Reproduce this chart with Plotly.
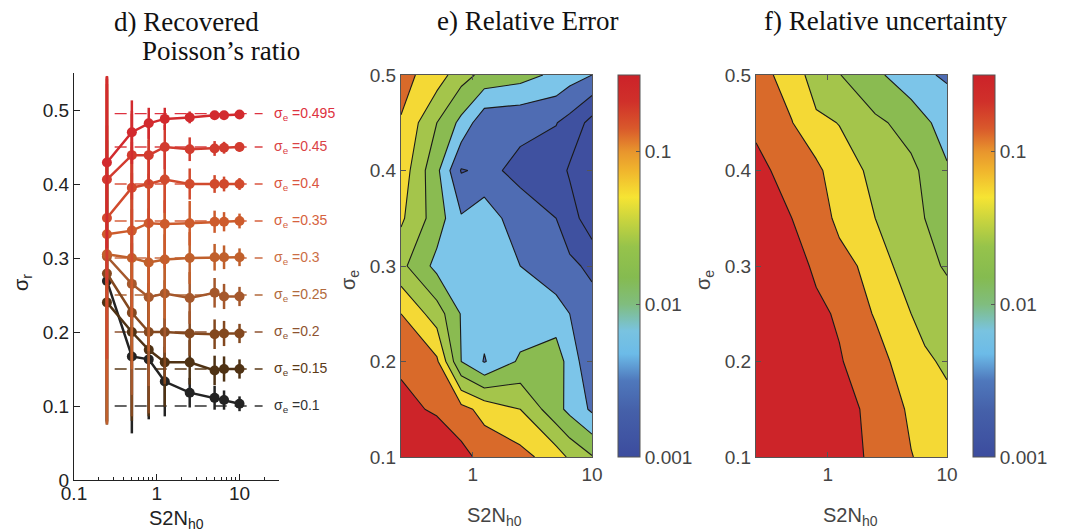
import plotly.graph_objects as go

W, H = 1070, 531
def px(x): return x / W
def py(y): return 1 - y / H

# ---------------- data: panel d ----------------
s2n = [0.25, 0.5, 0.8, 1.25, 2.5, 5, 6.5, 10]
sigma_e_levels = [0.1, 0.15, 0.2, 0.25, 0.3, 0.35, 0.4, 0.45, 0.495]
sigma_e_labels = ["0.1", "0.15", "0.2", "0.25", "0.3", "0.35", "0.4", "0.45", "0.495"]

sr_010 = [0.269, 0.167, 0.163, 0.133, 0.118, 0.111, 0.108, 0.103]
sr_015 = [0.240, 0.200, 0.176, 0.159, 0.159, 0.148, 0.150, 0.150]
sr_020 = [0.279, 0.226, 0.200, 0.200, 0.198, 0.197, 0.198, 0.198]
sr_025 = [0.302, 0.265, 0.247, 0.252, 0.246, 0.253, 0.248, 0.248]
sr_030 = [0.305, 0.300, 0.294, 0.298, 0.300, 0.301, 0.301, 0.301]
sr_035 = [0.332, 0.337, 0.347, 0.346, 0.347, 0.349, 0.349, 0.350]
sr_040 = [0.354, 0.395, 0.400, 0.406, 0.400, 0.400, 0.400, 0.400]
sr_045 = [0.406, 0.439, 0.439, 0.450, 0.447, 0.448, 0.449, 0.450]
sr_0495 = [0.429, 0.470, 0.482, 0.488, 0.490, 0.493, 0.493, 0.494]

err_010 = [0.190, 0.104, 0.081, 0.047, 0.020, 0.016, 0.013, 0.010]
err_015 = [0.165, 0.120, 0.090, 0.060, 0.030, 0.020, 0.017, 0.013]
err_020 = [0.200, 0.140, 0.110, 0.070, 0.030, 0.020, 0.017, 0.013]
err_025 = [0.225, 0.150, 0.120, 0.080, 0.035, 0.020, 0.017, 0.013]
err_030 = [0.230, 0.150, 0.120, 0.080, 0.035, 0.018, 0.016, 0.012]
err_035 = [0.210, 0.120, 0.090, 0.060, 0.030, 0.015, 0.013, 0.010]
err_040 = [0.190, 0.100, 0.060, 0.045, 0.021, 0.012, 0.010, 0.008]
err_045 = [0.140, 0.060, 0.040, 0.030, 0.016, 0.010, 0.008, 0.006]
err_0495 = [0.116, 0.043, 0.021, 0.015, 0.008, 0.004, 0.004, 0.003]

series_vals = [sr_010, sr_015, sr_020, sr_025, sr_030, sr_035, sr_040, sr_045, sr_0495]
series_errs = [err_010, err_015, err_020, err_025, err_030, err_035, err_040, err_045, err_0495]
series_colors = ["#232323", "#4f3214", "#83481f", "#a5582c", "#c0602c",
                 "#cd5b2c", "#d14a2d", "#d23b2f", "#d22a2e"]
label_colors = ["#333333", "#5b3a17", "#8e5330", "#b26a3c", "#cc6e45",
                "#d6623e", "#da5540", "#da4346", "#dd3240"]
ref_line_x = [0.31, 19]

# ---------------- data: panels e, f (log10 values on grid) ----------------
grid_s2n = [0.25, 0.5, 0.8, 1.25, 2.5, 5, 6.5, 10]
grid_sigma_e = [0.1, 0.15, 0.2, 0.25, 0.3, 0.35, 0.4, 0.45, 0.5]

rel_error_log10 = [
    [-0.50, -0.60, -0.80, -1.00, -1.10, -1.35, -1.55, -1.78],
    [-0.80, -0.95, -1.10, -1.30, -1.50, -2.00, -2.18, -2.45],
    [-0.96, -1.15, -2.10, -2.42, -2.05, -1.90, -2.25, -2.60],
    [-1.20, -1.65, -2.12, -2.30, -2.30, -2.30, -2.40, -2.60],
    [-1.72, -2.19, -2.30, -2.30, -2.40, -2.55, -2.65, -2.75],
    [-1.45, -1.95, -2.37, -2.20, -2.61, -2.70, -2.85, -3.20],
    [-1.32, -2.03, -2.72, -2.65, -2.75, -2.85, -3.04, -3.15],
    [-1.22, -1.80, -2.18, -2.62, -2.65, -2.69, -2.80, -3.10],
    [-1.10, -1.35, -1.68, -1.89, -1.98, -2.17, -2.28, -2.40],
]
rel_unc_log10 = [
    [-0.35, -0.45, -0.60, -0.75, -0.97, -1.19, -1.25, -1.35],
    [-0.40, -0.50, -0.65, -0.80, -0.975, -1.25, -1.30, -1.42],
    [-0.45, -0.60, -0.75, -0.88, -1.06, -1.40, -1.45, -1.55],
    [-0.55, -0.70, -0.85, -0.93, -1.227, -1.50, -1.60, -1.72],
    [-0.60, -0.80, -0.94, -1.10, -1.30, -1.70, -1.75, -1.82],
    [-0.70, -0.90, -1.05, -1.27, -1.50, -1.68, -1.80, -1.95],
    [-0.83, -1.00, -1.12, -1.40, -1.55, -1.75, -1.84, -2.07],
    [-0.95, -1.19, -1.45, -1.507, -1.75, -1.89, -2.05, -2.22],
    [-1.06, -1.35, -1.63, -1.79, -2.02, -2.32, -2.36, -2.44],
]

cbar_tickvals = [-3, -2, -1]
cbar_ticktext = ["0.001", "0.01", "0.1"]

band_colors = ["#3f4f9f", "#3f51a0", "#4f6cb3", "#7cc5e9", "#8abb51",
               "#a4c54b", "#f4d935", "#d96a2a", "#cd2429"]
nb = len(band_colors)
stepped = []
for j, c in enumerate(band_colors):
    lo = max(0, (j - 0.5) / (nb - 1))
    hi = min(1, (j + 0.5) / (nb - 1))
    stepped += [[lo, c], [hi, c]]

cont_scale = [[0, "#3c4c9e"], [0.12, "#4560a9"], [0.2, "#4f78bc"], [0.27, "#6cbbe8"],
              [0.33, "#79c3e0"], [0.4, "#80bd7e"], [0.47, "#85bb50"], [0.55, "#96c34b"],
              [0.62, "#c8d43e"], [0.68, "#f6e433"], [0.75, "#f0b52d"], [0.8, "#e8952d"],
              [0.86, "#d9592b"], [0.93, "#d0302a"], [1, "#cc2229"]]

fig = go.Figure()

# ---- panel d ----
for i, lev in enumerate(sigma_e_levels):
    fig.add_trace(go.Scatter(x=ref_line_x, y=[lev, lev], mode="lines",
                             line=dict(color=label_colors[i], width=1.3, dash="12px,8px"),
                             xaxis="x", yaxis="y", showlegend=False, hoverinfo="skip"))
for i, lev in enumerate(sigma_e_levels):
    fig.add_trace(go.Scatter(
        x=s2n, y=series_vals[i], mode="lines+markers",
        line=dict(color=series_colors[i], width=2.5),
        marker=dict(color=series_colors[i], size=10),
        error_y=dict(type="data", array=series_errs[i], color=series_colors[i],
                     thickness=2.5, width=0),
        xaxis="x", yaxis="y", showlegend=False))

# ---- panels e, f ----
contour_common = dict(
    x=grid_s2n, y=grid_sigma_e,
    autocontour=False,
    contours=dict(start=-3.0, end=-0.89, size=0.3, coloring="fill", showlines=True),
    colorscale=stepped, showscale=False,
    line=dict(color="#1a1a1a", width=1.1, smoothing=0),
)
fig.add_trace(go.Contour(z=rel_error_log10, xaxis="x2", yaxis="y2", **contour_common))
fig.add_trace(go.Contour(z=rel_unc_log10, xaxis="x3", yaxis="y3", **contour_common))

def cbar_trace(xa, ya, xpos):
    return go.Scatter(
        x=[1], y=[0.3], mode="markers", xaxis=xa, yaxis=ya, showlegend=False,
        hoverinfo="skip",
        marker=dict(size=1, opacity=0, color=[-2], cmin=-3, cmax=-0.5,
                    colorscale=cont_scale, showscale=True,
                    colorbar=dict(x=xpos, xanchor="left", y=py(266), yanchor="middle",
                                  len=(457 - 75) / H, lenmode="fraction",
                                  thickness=22, thicknessmode="pixels",
                                  xpad=0, ypad=0, outlinewidth=1, outlinecolor="#555",
                                  tickmode="array", tickvals=cbar_tickvals,
                                  ticktext=cbar_ticktext, ticks="inside", ticklen=4,
                                  tickcolor="#555",
                                  tickfont=dict(family="Liberation Sans", size=19, color="#444"))))

fig.add_trace(cbar_trace("x2", "y2", px(618)))
fig.add_trace(cbar_trace("x3", "y3", px(973)))

tickfont_d = dict(family="Liberation Sans", size=19, color="#222")
tickfont_ef = dict(family="Liberation Sans", size=19, color="#444")

layout = dict(
    template="none",
    width=W, height=H, margin=dict(l=0, r=0, t=0, b=0, autoexpand=False),
    paper_bgcolor="white", plot_bgcolor="white",
    xaxis=dict(type="log", range=[-1, 1.477], domain=[px(74), px(279)], anchor="y",
               automargin=False, ticklabelstandoff=-4,
               showgrid=False, zeroline=False, showline=True, linecolor="#222", linewidth=1,
               ticks="inside", ticklen=6, tickcolor="#222", tickvals=[0.1, 1, 10],
               ticktext=["0.1", "1", "10"], tickfont=tickfont_d,
               minor=dict(ticks="inside", ticklen=3, tickcolor="#222",
                          tickmode="array", showgrid=False,
                          tickvals=[0.2, 0.3, 0.4, 0.5, 0.6, 0.7, 0.8, 0.9,
                                    2, 3, 4, 5, 6, 7, 8, 9, 20])),
    yaxis=dict(range=[0, 0.55], domain=[py(480), py(73)], anchor="x", automargin=False,
               showgrid=False, zeroline=False, showline=True, linecolor="#222", linewidth=1,
               ticks="inside", ticklen=6, tickcolor="#222",
               tickvals=[0, 0.1, 0.2, 0.3, 0.4, 0.5], ticktext=["0", "0.1", "0.2", "0.3", "0.4", "0.5"],
               tickfont=tickfont_d),
)
for ax, dom in (("2", [px(401), px(592)]), ("3", [px(756), px(947)])):
    layout["xaxis" + ax] = dict(type="log", range=[-0.60206, 1], domain=dom, anchor="y" + ax,
                               automargin=False,
                               showgrid=False, zeroline=False, showline=True, mirror="ticks",
                               linecolor="#555", linewidth=1, ticks="inside", ticklen=5,
                               tickcolor="#555", tickvals=[1, 10], ticktext=["1", "10"],
                               tickfont=tickfont_ef)
    layout["yaxis" + ax] = dict(range=[0.1, 0.5], domain=[py(457), py(75)], anchor="x" + ax,
                               automargin=False,
                               showgrid=False, zeroline=False, showline=True, mirror="ticks",
                               linecolor="#555", linewidth=1, ticks="inside", ticklen=5,
                               tickcolor="#555", tickvals=[0.1, 0.2, 0.3, 0.4, 0.5],
                               ticktext=["0.1", "0.2", "0.3", "0.4", "0.5"],
                               tickfont=tickfont_ef)
fig.update_layout(**layout)

ann = []
title_font = dict(family="Liberation Serif", size=27, color="#111")
def T(text, x, y, **kw):
    d = dict(text=text, x=px(x), y=py(y), xref="paper", yref="paper", showarrow=False,
             xanchor="left", yanchor="middle")
    d.update(kw)
    ann.append(d)

T("d) Recovered", 112, 22, font=title_font)
T("Poisson\u2019s ratio", 140, 51, font=title_font)
T("e) Relative Error", 435, 21, font=title_font)
T("f) Relative uncertainty", 762, 21, font=title_font)

lab_font = dict(family="Liberation Sans", size=20)
T("\u03c3<sub>r</sub>", 22, 283, textangle=-90, xanchor="center", font=dict(lab_font, color="#222"))
T("\u03c3<sub>e</sub>", 349, 280, textangle=-90, xanchor="center", font=dict(lab_font, color="#444"))
T("\u03c3<sub>e</sub>", 704, 280, textangle=-90, xanchor="center", font=dict(lab_font, color="#444"))
T("S2N<sub>h0</sub>", 176, 519, xanchor="center", font=dict(lab_font, color="#222"))
T("S2N<sub>h0</sub>", 494, 516, xanchor="center", font=dict(lab_font, color="#444"))
T("S2N<sub>h0</sub>", 850, 516, xanchor="center", font=dict(lab_font, color="#444"))

for i, lev in enumerate(sigma_e_levels):
    ann.append(dict(text="\u03c3<sub>e</sub> =" + sigma_e_labels[i], x=px(272), y=lev,
                    xref="paper", yref="y", xanchor="left", yanchor="middle", showarrow=False,
                    font=dict(family="Liberation Sans", size=14, color=label_colors[i])))

fig.update_layout(annotations=ann)
fig.write_html("out.html", config={"displayModeBar": False, "staticPlot": True},
               post_script="document.body.style.margin='0';document.body.style.overflow='hidden';")
